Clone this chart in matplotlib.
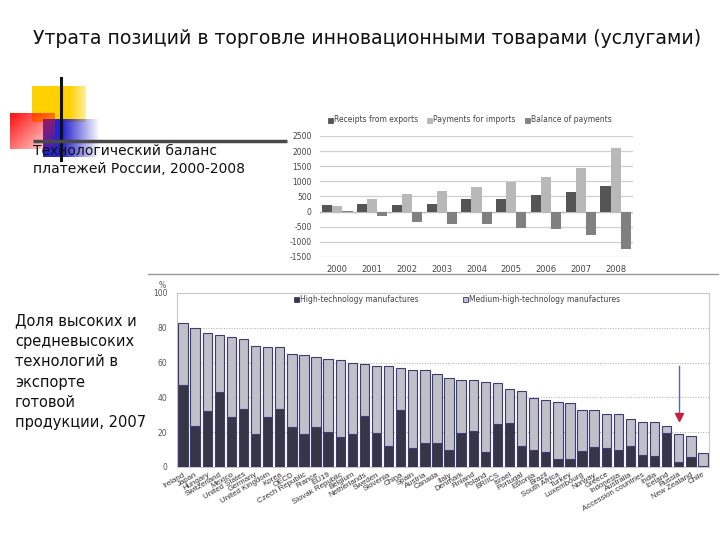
import matplotlib.pyplot as plt
import numpy as np

# ---- data: technology balance of payments, Russia (mln USD)
years = ['2000', '2001', '2002', '2003', '2004', '2005', '2006', '2007', '2008']
receipts = [220, 250, 220, 250, 410, 410, 540, 640, 840]
payments = [200, 420, 580, 680, 820, 980, 1130, 1440, 2090]
balance = [20, -140, -350, -410, -420, -550, -580, -770, -1250]

# ---- data: share of high / medium-high tech in manufacturing exports, 2007 (%)
countries = ['Ireland', 'Japan', 'Hungary', 'Switzerland', 'Mexico', 'United States',
             'Germany', 'United Kingdom', 'Korea', 'OECD', 'Czech Republic', 'France',
             'EU19', 'Slovak Republic', 'Belgium', 'Netherlands', 'Sweden', 'Slovenia',
             'China', 'Spain', 'Austria', 'Canada', 'Italy', 'Denmark', 'Finland',
             'Poland', 'BRIICS', 'Israel', 'Portugal', 'Estonia', 'Brazil',
             'South Africa', 'Turkey', 'Luxembourg', 'Norway', 'Greece', 'Indonesia',
             'Australia', 'Accession countries', 'India', 'Iceland', 'Russia',
             'New Zealand', 'Chile']
high_tech = [47, 23.4, 32, 43, 28.7, 33.3, 19, 28.7, 33.3, 22.8, 19, 23.2,
             20, 17.4, 19, 29.3, 19.7, 12.3, 33, 11, 13.8, 13.8, 9.8, 19.3, 20.5,
             8.6, 25, 25.5, 11.9, 10, 8.6, 4.6, 4.8, 9, 11.5, 11, 9.6,
             11.9, 7, 6.1, 19.7, 2.7, 5.7, 0.5]
medium_high = [36, 56.5, 44.8, 33, 46.2, 40.1, 50.7, 40.5, 35.5, 42.1, 45.2, 40,
               42.3, 44.3, 40.6, 30.1, 38.5, 45.6, 23.7, 44.9, 42.2, 39.8, 41.3, 30.7, 29.5,
               40.1, 23.5, 19.3, 31.6, 29.5, 30.1, 32.6, 32.2, 24, 21.5, 19.7, 21.1,
               15.9, 18.7, 19.6, 3.9, 16.5, 12.1, 7.7]

W, H = 720, 540
fig = plt.figure(figsize=(7.2, 5.4), dpi=100)


def box(x0, y0, x1, y1):
    # pixel box (top-left origin) -> figure rect
    return [x0 / W, 1 - y1 / H, (x1 - x0) / W, (y1 - y0) / H]


# ---------------- top chart ----------------
ax1 = fig.add_axes(box(320, 136, 633, 257))
ax1.set_facecolor('none')
x = np.arange(len(years))
bw = 0.29
ax1.bar(x - bw, receipts, bw, color='#555555', zorder=3)
ax1.bar(x, payments, bw, color='#b8b8b8', zorder=3)
ax1.bar(x + bw, balance, bw, color='#808080', zorder=3)
ax1.set_xlim(-0.5, len(years) - 0.5)
ax1.set_ylim(-1500, 2500)
ax1.set_yticks(range(-1500, 2501, 500))
ax1.set_yticklabels([f'{v}' for v in range(-1500, 2501, 500)], fontsize=5.5, color='#444444')
ax1.set_xticks(x)
ax1.set_xticklabels(years, fontsize=6, color='#444444')
ax1.tick_params(length=0, pad=6)
ax1.yaxis.grid(True, color='#cfcfcf', linewidth=0.9, zorder=0)
for s in ax1.spines.values():
    s.set_visible(False)
ax1.axhline(0, color='#bbbbbb', linewidth=0.8, zorder=2)
for b in np.arange(-0.5, len(years), 1):
    ax1.plot([b, b], [0, -60], color='#bbbbbb', linewidth=0.6, zorder=2)

# ---------------- bottom chart ----------------
ax2 = fig.add_axes(box(177, 293, 709, 467))
ax2.set_facecolor('none')
xc = np.arange(len(countries))
ax2.bar(xc, high_tech, 0.77, color='#363646', edgecolor='#3c3c78', linewidth=0.8, zorder=3)
ax2.bar(xc, medium_high, 0.77, bottom=high_tech, color='#c0c0c8',
        edgecolor='#3c3c78', linewidth=0.8, zorder=3)
ax2.set_xlim(-0.5, len(countries) - 0.5)
ax2.set_ylim(0, 100)
ax2.set_yticks(range(0, 101, 20))
ax2.set_yticklabels([str(v) for v in range(0, 101, 20)], fontsize=5.5, color='#555555')
ax2.set_xticks(xc)
ax2.set_xticklabels(countries, rotation=30, ha='right', rotation_mode='anchor',
                    fontsize=5.7, color='#333333', family='Liberation Sans')
ax2.tick_params(length=0)
ax2.tick_params(axis='y', pad=7)
ax2.tick_params(axis='x', pad=3)
for v in range(20, 100, 20):
    ax2.axhline(v, color='#aaaaaa', linewidth=0.7, linestyle=':', zorder=1)
for s in ax2.spines.values():
    s.set_color('#c8c8c8')
    s.set_linewidth(0.8)

# arrow pointing at Russia
ri = countries.index('Russia')
rtop = high_tech[ri] + medium_high[ri]
ax2.plot([ri, ri], [rtop + 39, rtop + 11], color='#5a6a9a', linewidth=1, zorder=4)
ax2.plot(ri, rtop + 9.5, marker='v', color='#c8203c', markersize=6, zorder=5)

# ---------------- overlay: decorations and slide text ----------------
deco = fig.add_axes([0, 0, 1, 1])
deco.set_facecolor('none')
deco.axis('off')


def grad_square(x0, y0, x1, y1, rgb, alpha_fn):
    n = 60
    fx, fy = np.meshgrid(np.linspace(0, 1, n), np.linspace(0, 1, n))
    img = np.zeros((n, n, 4))
    img[..., :3] = rgb
    img[..., 3] = np.clip(alpha_fn(fx, fy), 0, 1)
    deco.imshow(img, extent=(x0, x1, y1, y0), aspect='auto', interpolation='bilinear')


grad_square(32, 86, 86, 122, (1.0, 0.82, 0.0), lambda fx, fy: 1.0 - np.clip((fx - 0.7) / 0.3, 0, 1) * 0.6)
grad_square(43, 119, 100, 157, (0.15, 0.15, 0.8), lambda fx, fy: 1.0 - np.clip((fx - 0.35) / 0.65, 0, 1))
grad_square(10, 113, 55, 149, (1.0, 0.05, 0.05), lambda fx, fy: 1.0 - 0.5 * fx - 0.4 * fy)
deco.plot([61, 61], [78, 160], color='#111111', linewidth=2.2)
deco.plot([33, 287], [141, 141], color='#4a4a4a', linewidth=2.5, solid_capstyle='butt')
deco.plot([148, 718], [274, 274], color='#999999', linewidth=1)

deco.text(367, 38, 'Утрата позиций в торговле инновационными товарами (услугами)',
          ha='center', va='center', fontsize=13.6, color='#111111')
deco.text(33, 160, 'Технологический баланс\nплатежей России, 2000-2008',
          ha='left', va='center', fontsize=10, color='#111111', linespacing=1.3)
deco.text(15, 372, 'Доля высоких и\nсредневысоких\nтехнологий в\nэкспорте\nготовой\nпродукции, 2007',
          ha='left', va='center', fontsize=10.5, color='#111111', linespacing=1.45)
deco.text(162, 285, '%', ha='center', va='center', fontsize=5.5, color='#555555')


def legend_item(xp, yp, color, label, edge=None):
    deco.add_patch(plt.Rectangle((xp, yp - 2.5), 5, 5, facecolor=color,
                                 edgecolor=edge if edge else color, linewidth=0.6))
    deco.text(xp + 6, yp, label, ha='left', va='center', fontsize=5.5, color='#444444')


legend_item(328, 120, '#555555', 'Receipts from exports')
legend_item(427, 120, '#b8b8b8', 'Payments for imports')
legend_item(525, 120, '#808080', 'Balance of payments')
legend_item(294, 299, '#363646', 'High-technology manufactures', edge='#3c3c78')
legend_item(463, 299, '#c0c0c8', 'Medium-high-technology manufactures', edge='#3c3c78')

deco.set_xlim(0, W)
deco.set_ylim(H, 0)

fig.savefig('out.png', dpi=100)
